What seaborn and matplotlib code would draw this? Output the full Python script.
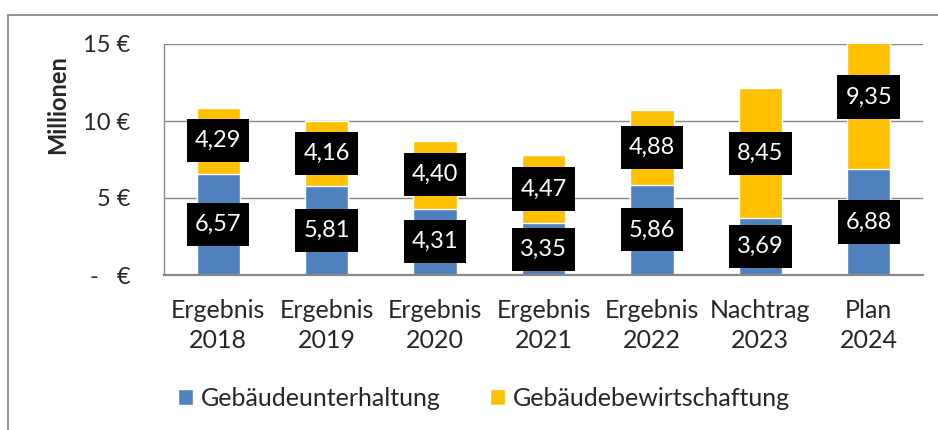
import seaborn as sns
import matplotlib.pyplot as plt
from matplotlib.lines import Line2D
from matplotlib.patches import Patch
from matplotlib.path import Path

# Werte in Mio. Euro
kategorien = ["Ergebnis\n2018", "Ergebnis\n2019", "Ergebnis\n2020", "Ergebnis\n2021",
              "Ergebnis\n2022", "Nachtrag\n2023", "Plan\n2024"]
unterhaltung = [6.57, 5.81, 4.31, 3.35, 5.86, 3.69, 6.88]
bewirtschaftung = [4.29, 4.16, 4.40, 4.47, 4.88, 8.45, 9.35]
y_ticks = [0, 5, 10, 15]
y_ticklabels = ["-   €", "5 €", "10 €", "15 €"]

blau = "#4F81BD"
gelb = "#FFC000"
grau = "#898989"


def kasten(x0, y0, width, height, mutation_size):
    # schwarzer Kasten, oben/unten mehr Rand als links/rechts
    px = 0.34 * mutation_size
    py = 0.47 * mutation_size
    x0, y0 = x0 - px, y0 - py
    x1, y1 = x0 + width + 2 * px, y0 + height + 2 * py
    return Path([(x0, y0), (x1, y0), (x1, y1), (x0, y1), (x0, y0)], closed=True)


sns.set_style("white")
plt.rcParams["font.family"] = ["Lato", "DejaVu Sans"]

fig = plt.figure(figsize=(9.38, 4.30), dpi=100)
ax = fig.add_axes([164 / 938, 1 - 275 / 430, (923 - 164) / 938, (275 - 44) / 430])

gesamt = [u + b for u, b in zip(unterhaltung, bewirtschaftung)]
sns.barplot(x=kategorien, y=gesamt, color=gelb, saturation=1, width=0.4, ax=ax, zorder=2)
sns.barplot(x=kategorien, y=unterhaltung, color=blau, saturation=1, width=0.4, ax=ax, zorder=3)

ax.set_ylim(0, 15)
ax.set_xlim(-0.5, len(kategorien) - 0.5)
ax.set_yticks(y_ticks)
ax.set_yticklabels(y_ticklabels)
ax.set_xlabel("")
ax.set_ylabel("")
ax.yaxis.grid(True, color=grau, linewidth=1.0, zorder=0)
ax.set_axisbelow(True)

for s in ["top", "right"]:
    ax.spines[s].set_visible(False)
ax.spines["left"].set_color(grau)
ax.spines["left"].set_linewidth(1.0)
ax.spines["bottom"].set_color(grau)
ax.spines["bottom"].set_linewidth(1.6)
ax.spines["bottom"].set_zorder(5)

ax.tick_params(axis="y", length=6, width=1.0, color=grau, pad=18, labelsize=17)
ax.tick_params(axis="x", which="major", length=0, pad=17, labelsize=18)
ax.set_xticks([i - 0.5 for i in range(len(kategorien) + 1)], minor=True)
ax.tick_params(axis="x", which="minor", length=6, width=1.2, color=grau, direction="out")
for t in ax.get_xticklabels():
    t.set_linespacing(1.38)

# Beschriftungen
for i, (u, b) in enumerate(zip(unterhaltung, bewirtschaftung)):
    for wert, mitte in [(u, u / 2), (b, u + b / 2)]:
        ax.text(i, mitte, f"{wert:.2f}".replace(".", ","), ha="center", va="center",
                color="white", fontsize=17, zorder=6,
                bbox=dict(boxstyle=kasten, facecolor="black", edgecolor="none"))

fig.text(58 / 938, 1 - 105 / 430, "Millionen", rotation=90, ha="center", va="center",
         fontsize=17, fontweight="bold")

handles = [Patch(facecolor=blau), Patch(facecolor=gelb)]
fig.legend(handles, ["Gebäudeunterhaltung", "Gebäudebewirtschaftung"], loc="center",
           bbox_to_anchor=(484 / 938, 1 - 398 / 430), ncol=2, frameon=False, fontsize=18,
           handlelength=0.6, handleheight=0.6, handletextpad=0.3, columnspacing=2.0)

# Rahmen des Diagrammbereichs
fig.add_artist(Line2D([8 / 938, 8 / 938], [0, 1 - 15 / 430], color=grau, linewidth=1.3))
fig.add_artist(Line2D([8 / 938, 1], [1 - 15 / 430, 1 - 15 / 430], color=grau, linewidth=1.3))

fig.savefig("out.png", dpi=100)
